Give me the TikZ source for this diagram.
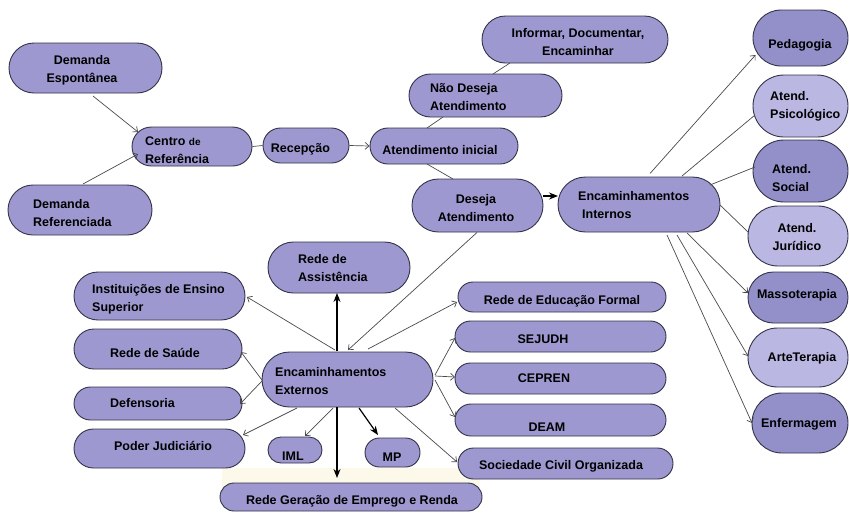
\documentclass[tikz,border=0pt]{standalone}
\usepackage{fontspec}
\setmainfont{Liberation Sans}
\usetikzlibrary{shapes.misc,arrows.meta,calc}
\definecolor{pfill}{HTML}{9D99D0}
\definecolor{pdark}{HTML}{938FC9}
\definecolor{plight}{HTML}{BAB7E2}
\definecolor{pborder}{HTML}{33334A}
\definecolor{lgray}{HTML}{4A4A4A}
\definecolor{beige}{HTML}{FCF8EA}
\begin{document}
\begin{tikzpicture}[x=1pt,y=-1pt,
 pill/.style={rounded rectangle, draw=pborder, line width=0.9pt, fill=pfill, inner sep=0pt},
 txt/.style={font=\fontsize{12.5}{18}\selectfont\bfseries, inner sep=0pt, text=black},
 lk/.style={draw=lgray, line width=0.7pt},
 ar/.style={lk, -{Straight Barb[length=4pt,width=7pt]}},
 tk/.style={draw=black, line width=1.2pt, -{Stealth[length=9pt,width=7pt]}}]
\useasboundingbox (0,0) rectangle (849,512);
\fill[white] (0,0) rectangle (849,512);
\fill[beige] (222,468) rectangle (480,490);

% nodes
\node[pill, minimum width=153pt, minimum height=50pt] (de) at (85.5,68) {};
\node[pill, minimum width=144pt, minimum height=50pt] (dr) at (80,210) {};
\node[pill, minimum width=120pt, minimum height=39pt] (cr) at (192,146.5) {};
\node[pill, minimum width=86pt, minimum height=35pt] (rc) at (306,145.5) {};
\node[pill, minimum width=148pt, minimum height=36pt] (ai) at (444,146) {};
\node[pill, minimum width=153pt, minimum height=43pt] (nd) at (485.5,95.5) {};
\node[pill, minimum width=186pt, minimum height=47pt] (if) at (575,39.5) {};
\node[pill, minimum width=131pt, minimum height=53pt] (da) at (477.5,205.5) {};
\node[pill, minimum width=162pt, minimum height=55pt] (ei) at (639,204.5) {};
\node[pill, fill=pdark, minimum width=95pt, minimum height=56pt] (pe) at (800.5,38) {};
\node[pill, fill=plight, minimum width=95pt, minimum height=62pt] (ps) at (800.5,106) {};
\node[pill, fill=pdark, minimum width=95pt, minimum height=62pt] (so) at (800.5,171) {};
\node[pill, fill=plight, minimum width=100pt, minimum height=60pt] (ju) at (798,236) {};
\node[pill, fill=pdark, minimum width=100pt, minimum height=51pt] (ma) at (798,297.5) {};
\node[pill, fill=plight, minimum width=100pt, minimum height=59pt] (at) at (798,357.5) {};
\node[pill, fill=pdark, minimum width=96pt, minimum height=60pt] (en) at (800,423) {};
\node[pill, minimum width=142pt, minimum height=51pt] (ra) at (339,267.5) {};
\node[pill, minimum width=171pt, minimum height=48pt] (ie) at (159.5,296) {};
\node[pill, minimum width=168pt, minimum height=40pt] (rs) at (158,349) {};
\node[pill, minimum width=168pt, minimum height=33pt] (df) at (158,403.5) {};
\node[pill, minimum width=171pt, minimum height=39pt] (pj) at (159.5,448.5) {};
\node[pill, minimum width=171pt, minimum height=55pt] (ee) at (347.5,379.5) {};
\node[pill, minimum width=54pt, minimum height=26pt] (iml) at (295,450) {};
\node[pill, minimum width=55pt, minimum height=29pt] (mp) at (392.5,452.5) {};
\node[pill, minimum width=262pt, minimum height=28pt] (rg) at (351,497) {};
\node[pill, minimum width=208pt, minimum height=30pt] (ef) at (562,297) {};
\node[pill, minimum width=211pt, minimum height=31pt] (sj) at (560.5,336.5) {};
\node[pill, minimum width=211pt, minimum height=31pt] (ce) at (560.5,378.5) {};
\node[pill, minimum width=211pt, minimum height=32pt] (dm) at (560.5,420) {};
\node[pill, minimum width=215pt, minimum height=31pt] (sc) at (565.5,463.5) {};

% texts
\node[txt, align=center] (de-t) at (82,70) {\strut Demanda\\\strut Espontânea};
\node[txt, align=left, anchor=west] (dr-t) at (33,214) {\strut Demanda\\\strut Referenciada};
\node[txt, align=left, anchor=west] (cr-t) at (145,151) {\strut Centro {\fontsize{10}{18}\selectfont de}\\\strut Referência};
\node[txt] (rc-t) at (300.5,149) {\strut Recepção};
\node[txt] (ai-t) at (440,151) {\strut Atendimento inicial};
\node[txt, align=left, anchor=west] (nd-t) at (430,98) {\strut Não Deseja\\\strut Atendimento};
\node[txt, align=center] (if-t) at (578,43) {\strut Informar, Documentar,\\\strut Encaminhar};
\node[txt, align=center] (da-t) at (476,209) {\strut Deseja\\\strut Atendimento};
\node[txt, align=left, anchor=west] (ei-t) at (578,205.5) {\strut Encaminhamentos\\\strut\hspace{4pt}Internos};
\node[txt] (pe-t) at (800,44.5) {\strut Pedagogia};
\node[txt, align=left, anchor=west] (ps-t) at (770,106) {\strut Atend.\\\strut Psicológico};
\node[txt, align=left, anchor=west] (so-t) at (772,179) {\strut Atend.\\\strut Social};
\node[txt, align=center] (ju-t) at (797,238) {\strut Atend.\\\strut Jurídico};
\node[txt] (ma-t) at (797,294.5) {\strut Massoterapia};
\node[txt] (at-t) at (802,358) {\strut ArteTerapia};
\node[txt] (en-t) at (799,424) {\strut Enfermagem};
\node[txt, align=left, anchor=west] (ra-t) at (298,269) {\strut Rede de\\\strut Assistência};
\node[txt, align=left, anchor=west] (ie-t) at (92,298.5) {\strut Instituições de Ensino\\\strut Superior};
\node[txt] (rs-t) at (155,354) {\strut Rede de Saúde};
\node[txt, anchor=west] (df-t) at (110,404) {\strut Defensoria};
\node[txt] (pj-t) at (163,447) {\strut Poder Judiciário};
\node[txt, align=left, anchor=west] (ee-t) at (275,382) {\strut Encaminhamentos\\\strut Externos};
\node[txt] (iml-t) at (293,457) {\strut IML};
\node[txt] (mp-t) at (392,458) {\strut MP};
\node[txt] (rg-t) at (352,501) {\strut Rede Geração de Emprego e Renda};
\node[txt] (ef-t) at (562,301) {\strut Rede de Educação Formal};
\node[txt] (sj-t) at (543,340) {\strut SEJUDH};
\node[txt] (ce-t) at (544,379) {\strut CEPREN};
\node[txt] (dm-t) at (547,428) {\strut DEAM};
\node[txt] (sc-t) at (561,466) {\strut Sociedade Civil Organizada};

% connectors
\draw[ar] ($(de)+(7.5,28)$) -- ($(cr)+(-54,-14.5)$);
\draw[ar] ($(dr)+(3,-26)$) -- ($(cr)+(-54,7.5)$);
\draw[lk] (cr.east) -- (rc.west);
\draw[ar] (rc.east) -- (ai.west);
\draw[lk] ($(ai)+(-17,-18)$) -- ($(nd)+(-42.5,21.5)$);
\draw[lk] ($(nd)+(7.5,-21.5)$) -- ($(if)+(-65,23.5)$);
\draw[lk] ($(ai)+(-17,18)$) -- ($(da)+(-24.5,-26.5)$);
\draw[tk] ($(da)+(65.5,-9.5)$) -- ($(ei)+(-81,-8.5)$);
\draw[ar] ($(ei)+(11,-31)$) -- ($(pe)+(-45,17)$);
\draw[lk] ($(ei)+(43,-28.5)$) -- ($(ps)+(-45.5,9)$);
\draw[lk] ($(ei)+(71,-19.5)$) -- ($(so)+(-45.5,-4)$);
\draw[lk] ($(ei)+(81,0.5)$) -- ($(ju)+(-50,-4)$);
\draw[ar] ($(ei)+(48,28.5)$) -- ($(ma)+(-50,-4.5)$);
\draw[ar] ($(ei)+(38,30.5)$) -- ($(at)+(-50,-1.5)$);
\draw[ar] ($(ei)+(28,30.5)$) -- ($(en)+(-48,0)$);
\draw[ar] ($(da)+(-0.5,27)$) -- ($(ee)+(0.5,-29.5)$);
\draw[ar] ($(ee)+(-12.5,-29.5)$) -- ($(ie)+(87.5,1)$);
\draw[tk] ($(ee)+(-10.5,-28.5)$) -- ($(ra)+(-2,25.5)$);
\draw[ar] ($(ee)+(20.5,-30.5)$) -- ($(ef)+(-105,5)$);
\draw[ar] ($(ee)+(87.5,-4.5)$) -- ($(sj)+(-105.5,1.5)$);
\draw[ar] ($(ee)+(87.5,-3.5)$) -- ($(ce)+(-105.5,-1.5)$);
\draw[ar] ($(ee)+(87.5,0.5)$) -- ($(dm)+(-105.5,-3)$);
\draw[ar] ($(ee)+(47.5,28.5)$) -- ($(sc)+(-108.5,-1.5)$);
\draw[tk] ($(ee)+(11.5,28.5)$) -- ($(mp)+(-14.5,-17.5)$);
\draw[tk] ($(ee)+(-10.5,27.5)$) -- ($(rg)+(-14,-19)$);
\draw[ar] ($(ee)+(-14.5,28.5)$) -- ($(iml)+(10,-14)$);
\draw[ar] ($(ee)+(-50.5,28.5)$) -- ($(pj)+(83.5,-13.5)$);
\draw[ar] ($(ee)+(-85.5,0.5)$) -- ($(rs)+(83,3)$);
\draw[ar] ($(ee)+(-85.5,1.5)$) -- ($(df)+(82,0.5)$);
\end{tikzpicture}
\end{document}
